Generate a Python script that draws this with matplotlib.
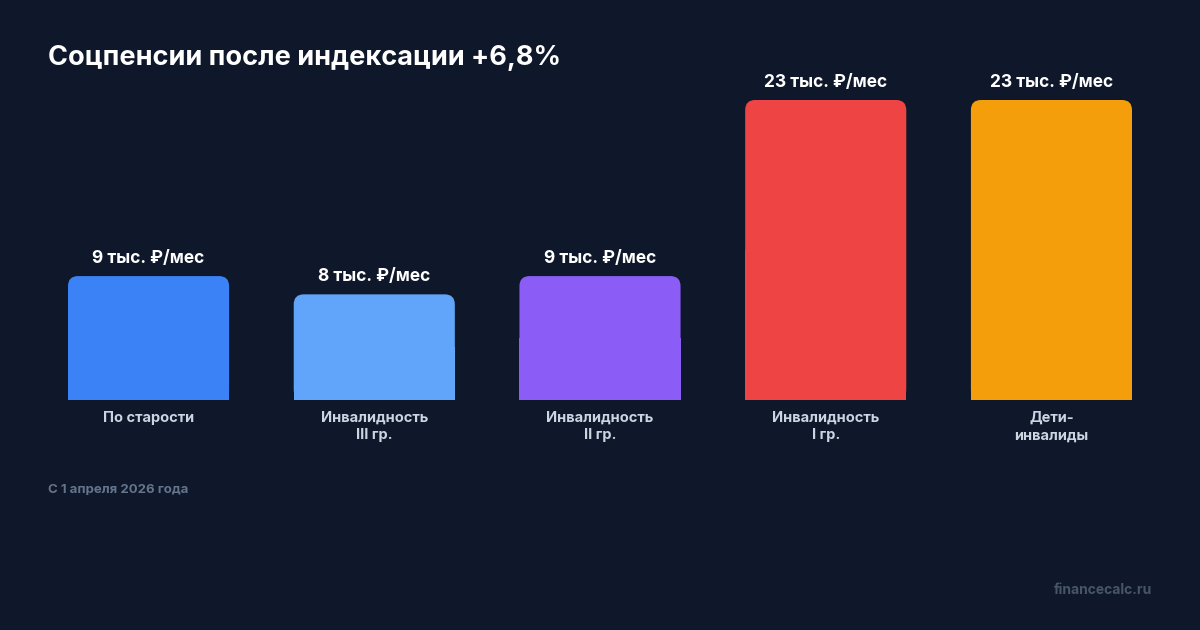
import matplotlib.pyplot as plt
from matplotlib.patches import FancyBboxPatch, Rectangle
from matplotlib.transforms import blended_transform_factory

plt.rcParams['font.family'] = ['Inter', 'DejaVu Sans']

categories = ['По старости', 'Инвалидность\nIII гр.', 'Инвалидность\nII гр.',
              'Инвалидность\nI гр.', 'Дети-\nинвалиды']
values = [9.5, 8.1, 9.5, 23.0, 23.0]  # тыс. руб/мес
value_labels = ['9 тыс. ₽/мес', '8 тыс. ₽/мес', '9 тыс. ₽/мес',
                '23 тыс. ₽/мес', '23 тыс. ₽/мес']
colors = ['#3b82f6', '#60a5fa', '#8b5cf6', '#ef4444', '#f59e0b']

BG = '#0f172a'
W, H = 1200, 630
fig = plt.figure(figsize=(12, 6.3), dpi=100, facecolor=BG)
ax = fig.add_axes([68 / W, 230 / H, (1132 - 68) / W, 300 / H])
ax.set_facecolor(BG)
ax.axis('off')

width = 161 / 225.6
ax.set_xlim(-width / 2, len(values) - 1 + width / 2)
ax.set_ylim(0, max(values))

# px per unit, for rounded corners
px_x = 225.6
px_y = 300 / max(values)
r = 10 / px_x
bars = ax.bar(range(len(values)), values, width=width, color='none')
for b, c in zip(bars, colors):
    x0, w, h = b.get_x(), b.get_width(), b.get_height()
    ax.add_patch(FancyBboxPatch((x0, 0), w, h,
                                boxstyle=f'round,pad=0,rounding_size={r}',
                                mutation_aspect=px_x / px_y, fc=c, ec='none'))
    ax.add_patch(Rectangle((x0, 0), w, h / 2, fc=c, ec='none'))

for i, (v, lab) in enumerate(zip(values, value_labels)):
    ax.annotate(lab, (i, v), xytext=(0, 9), textcoords='offset pixels',
                ha='center', va='bottom', color='white', fontsize=12.5,
                fontweight='bold', annotation_clip=False)

trans = blended_transform_factory(ax.transData, ax.transAxes)
for i, cat in enumerate(categories):
    ax.annotate(cat, (i, 0), xycoords=trans, xytext=(0, -11),
                textcoords='offset pixels', ha='center', va='top',
                color='#cbd5e1', fontsize=10.5, fontweight='bold',
                linespacing=1.3, annotation_clip=False)

fig.text(48 / W, 1 - 58 / H, 'Соцпенсии после индексации +6,8%', color='white',
         fontsize=19.5, fontweight='bold', va='center', ha='left')
fig.text(48 / W, 1 - 490 / H, 'С 1 апреля 2026 года', color='#64748b',
         fontsize=9.5, fontweight='bold', va='center', ha='left')
fig.text(1152 / W, 1 - 590 / H, 'financecalc.ru', color='#475569',
         fontsize=10, fontweight='bold', va='center', ha='right')

fig.savefig('out.png', dpi=100, facecolor=BG)
